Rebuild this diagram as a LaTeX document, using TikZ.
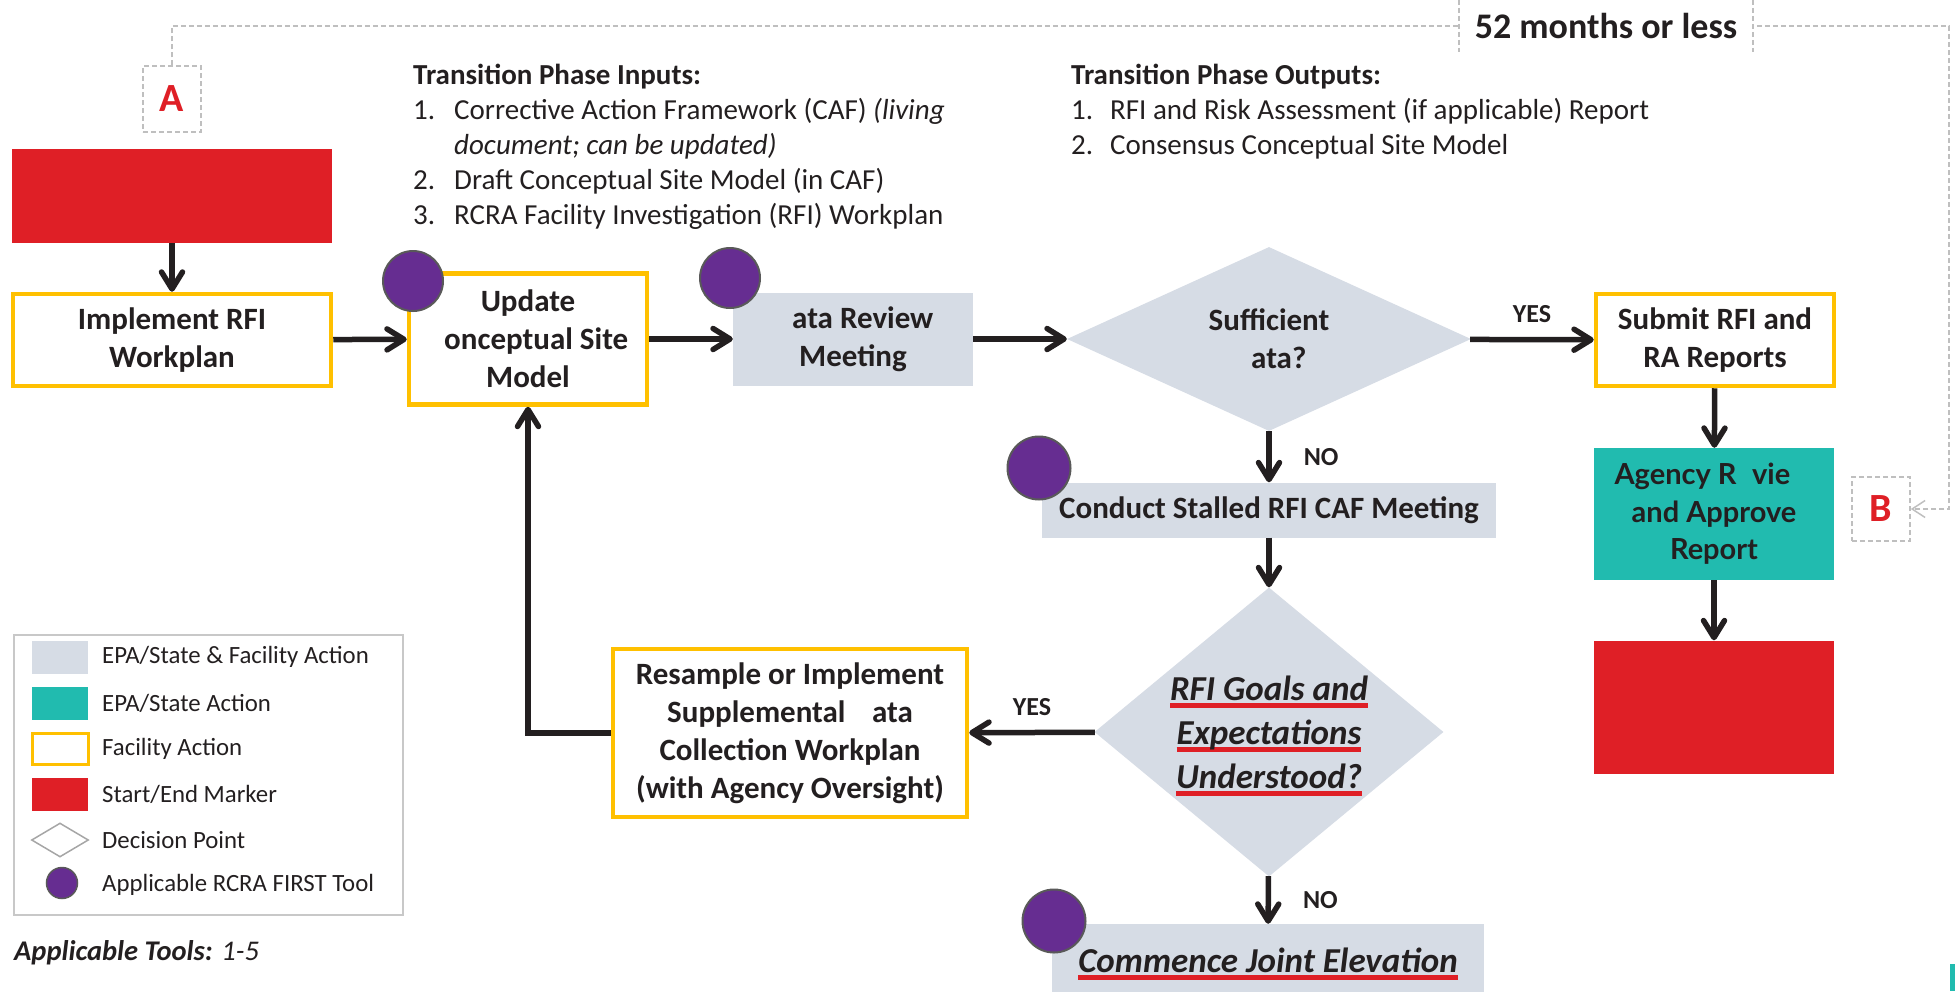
\documentclass[tikz,border=0pt]{standalone}
\usepackage{fontspec}
\setmainfont{Carlito}
\newfontfamily\latofont{Lato}
\usetikzlibrary{arrows.meta, shapes.geometric}

\definecolor{markred}{HTML}{DF1F26}
\definecolor{sharedgray}{HTML}{D6DCE5}
\definecolor{agencyteal}{HTML}{21BBAF}
\definecolor{facilityamber}{HTML}{FFC000}
\definecolor{toolpurple}{HTML}{662D91}
\definecolor{toolrim}{HTML}{595959}
\definecolor{linkgray}{HTML}{BFBFBF}
\definecolor{legendgray}{HTML}{C8C8C8}
\definecolor{diamondgray}{HTML}{A6A6A6}
\definecolor{inkblack}{HTML}{231F20}

\newsavebox{\redlinebox}
\newcommand{\redline}[1]{\sbox{\redlinebox}{#1}%
    \rlap{\smash{\textcolor{markred}{\rule[-0.21em]{\wd\redlinebox}{0.12em}}}}\usebox{\redlinebox}}

\begin{document}
\begin{tikzpicture}[x=1pt, y=-1pt, text=inkblack,
                    font=\fontsize{31}{38}\selectfont\bfseries]

        \useasboundingbox (0,0) rectangle (1955,991);

        % Setup the styles for the boxes
        \tikzset{facility box/.style={rectangle, draw=facilityamber, line width=4.5pt,
                                      fill=white, align=center, inner sep=0pt},
                 shared box/.style={rectangle, fill=sharedgray, align=center, inner sep=0pt},
                 agency box/.style={rectangle, fill=agencyteal, align=center, inner sep=0pt,
                                    font=\latofont\fontsize{29}{37.5}\selectfont\bfseries},
                 marker box/.style={rectangle, fill=markred},
                 decision/.style={diamond, fill=sharedgray, align=center, inner sep=0pt},
                 tool/.style={circle, fill=toolpurple, draw=toolrim, line width=2pt,
                              minimum size=60pt, inner sep=0pt},
                 page ref/.style={rectangle, draw=linkgray, line width=1.5pt,
                                  dash pattern=on 5pt off 3pt, text=markred, inner sep=0pt,
                                  font=\fontsize{40}{40}\selectfont\bfseries},
                 answer/.style={inner sep=0pt, font=\fontsize{26}{26}\selectfont\bfseries},
                 flow/.style={line width=5.5pt, draw=inkblack,
                              -{Straight Barb[length=17pt, width=21pt, round]}},
                 link/.style={draw=linkgray, line width=1.5pt, dash pattern=on 5pt off 3pt},
                 phase list/.style={anchor=north west, inner sep=0pt,
                                    font=\fontsize{29}{35}\selectfont\mdseries},
                 key text/.style={anchor=west, inner sep=0pt,
                                  font=\fontsize{24.8}{25}\selectfont\mdseries}}

        % Phase inputs and outputs
        \node[phase list] at (413,60) (inputs) {%
            \begin{tabular}{@{}p{41pt}@{}l@{}}
            \multicolumn{2}{@{}l@{}}{\bfseries Transition Phase Inputs:}\\
            1. & Corrective Action Framework (CAF) \textit{(living}\\
               & \textit{document; can be updated)}\\
            2. & Draft Conceptual Site Model (in CAF)\\
            3. & RCRA Facility Investigation (RFI) Workplan
            \end{tabular}};
        \node[phase list] at (1071,60) (outputs) {%
            \begin{tabular}{@{}p{39pt}@{}l@{}}
            \multicolumn{2}{@{}l@{}}{\bfseries Transition Phase Outputs:}\\
            1. & RFI and Risk Assessment (if applicable) Report\\
            2. & Consensus Conceptual Site Model
            \end{tabular}};

        % Timeline from A to B
        \node[page ref, minimum width=58, minimum height=66] at (172,99)  (pageA) {A};
        \node[page ref, minimum width=58, minimum height=64] at (1881,509) (pageB) {B};
        \coordinate (topright) at (1949,26);
        \draw[link, -{Straight Barb[length=13pt, width=17pt]}]
            (pageA.north) |- (topright) |- (pageB.east);
        \node[fill=white, minimum width=294, minimum height=52, inner sep=0pt,
              font=\fontsize{36}{36}\selectfont\bfseries] at (1606,26) (deadline) {52 months or less};
        \draw[link] (deadline.north west) -- (deadline.south west)
                    (deadline.north east) -- (deadline.south east);

        % Draw the main boxes
        \node[marker box, minimum width=320, minimum height=94] at (172,196) (start) {};
        \node[facility box, minimum width=318, minimum height=92] at (172,340) (implement) {Implement RFI\\Workplan};
        \node[facility box, minimum width=238, minimum height=131] at (528,339) (update) {Update\\\phantom{C}onceptual Site\\Model};
        \node[shared box, minimum width=240, minimum height=93] at (853,339) (review) {\phantom{D}ata Review\\Meeting};
        \node[decision, shape aspect=2.2, minimum width=404, minimum height=184] at (1269,339) (enough) {Sufficient\\\phantom{D}ata?};
        \node[facility box, minimum width=238, minimum height=92] at (1715,340) (submit) {Submit RFI and\\RA Reports};
        \node[agency box, minimum width=240, minimum height=132] at (1714,514) (approve) {Agency R\phantom{e}vie\phantom{w}\\and Approve\\Report};
        \node[marker box, minimum width=240, minimum height=133] at (1714,707) (finish) {};
        \node[shared box, minimum width=454, minimum height=55] at (1269,510) (stalled) {Conduct Stalled RFI CAF Meeting};
        \node[decision, shape aspect=1.21, minimum width=349, minimum height=289,
              font=\fontsize{35}{44}\selectfont\bfseries\itshape] at (1269,732) (goals)
              {\redline{RFI Goals and}\\\redline{Expectations}\\\redline{Understood?}};
        \node[facility box, minimum width=354, minimum height=168] at (790,733) (resample)
              {Resample or Implement\\Supplemental \phantom{D}ata\\Collection Workplan\\(with Agency Oversight)};
        \node[shared box, minimum width=432, minimum height=72,
              font=\fontsize{35}{40}\selectfont\bfseries\itshape] at (1268,960) (elevate)
              {\redline{Commence Joint Elevation}};

        % Applicable tools
        \node[tool] at (413,281)  (toolA) {};
        \node[tool] at (730,278)  (toolB) {};
        \node[tool, minimum size=63pt] at (1039,468) (toolC) {};
        \node[tool, minimum size=63pt] at (1054,921) (toolD) {};

        % Connect the boxes with arrows
        \draw[flow]
            (start)     edge (implement)
            (implement) edge (update)
            (update)    edge (review)
            (review)    edge (enough)
            (enough)    edge node[answer, above=14pt] {YES} (submit)
            (enough)    edge node[answer, right=32pt] {NO} (stalled)
            (stalled)   edge (goals)
            (goals)     edge node[answer, above=14pt] {YES} (resample)
            (goals)     edge node[answer, right=32pt] {NO} (elevate)
            (submit)    edge (approve)
            (approve)   edge (finish);
        \draw[flow] (resample.west) -| (update.south);

        % Legend
        \node[rectangle, draw=legendgray, line width=2pt, minimum width=389,
              minimum height=280] at (208.5,775) (legend) {};
        \node[shared box, minimum width=56, minimum height=33] at (60,657) (keyshared) {};
        \node[rectangle, fill=agencyteal, minimum width=56, minimum height=33] at (60,703) (keyagency) {};
        \node[facility box, line width=3pt, minimum width=56, minimum height=31] at (60,749) (keyfacility) {};
        \node[marker box, minimum width=56, minimum height=33] at (60,794) (keymarker) {};
        \node[diamond, draw=diamondgray, line width=1.5pt, inner sep=0pt,
              minimum width=57, minimum height=34] at (60,840) (keydecision) {};
        \node[tool, line width=1.5pt, minimum size=31pt] at (62,883) (keytool) {};
        \node[key text] at (102,657) (keysharedtext) {EPA/State \& Facility Action};
        \node[key text] at (102,703) (keyagencytext) {EPA/State Action};
        \node[key text] at (102,749) (keyfacilitytext) {Facility Action};
        \node[key text] at (102,794) (keymarkertext) {Start/End Marker};
        \node[key text] at (102,840) (keydecisiontext) {Decision Point};
        \node[key text] at (102,885) (keytooltext) {Applicable RCRA FIRST Tool};

        \node[anchor=west, inner sep=0pt, font=\fontsize{28.5}{29}\selectfont\mdseries]
            at (14,953) (toolsnote) {\textbf{\textit{Applicable Tools:}} \textit{1-5}};

        \fill[agencyteal] (1950,964) rectangle (1955,991);
    \end{tikzpicture}
\end{document}
